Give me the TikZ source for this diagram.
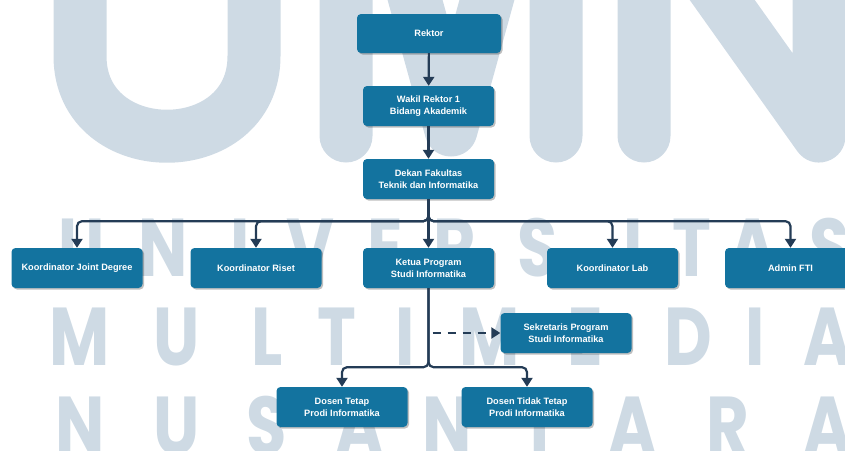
\documentclass[tikz,border=0pt]{standalone}
\usepackage{fontspec}
\setmainfont{Liberation Sans}
\newfontfamily\markfont{Poppins}
\usetikzlibrary{arrows.meta,shadows}

\definecolor{boxblue}{RGB}{19,115,159}
\definecolor{linenavy}{RGB}{36,60,86}
\definecolor{markgray}{RGB}{206,218,228}

\begin{document}
\begin{tikzpicture}[x=1pt,y=-1pt,
    unit/.style={rectangle, rounded corners=4pt, fill=boxblue, text=white,
        font=\fontsize{9.2}{12}\selectfont\bfseries, align=center,
        minimum width=131pt, minimum height=40pt, inner sep=0pt,
        drop shadow={shadow xshift=1.5pt, shadow yshift=-1.5pt, fill=black, opacity=.25}},
    link/.style={draw=linenavy, line width=2.2pt, rounded corners=5pt,
        -{Triangle[width=11pt,length=9pt]}},
    bigmark/.style={draw=markgray, line width=53pt, line cap=round, line join=round},
    wmletter/.style={text=markgray, inner sep=0pt, anchor=base,
        font=\markfont\bfseries\fontsize{82}{82}\selectfont}]

    \useasboundingbox (0,0) rectangle (845,450);

    % watermark
    \draw[bigmark] (80,-60) -- (80,56) .. controls (80,163) and (254,163) .. (254,56) -- (254,-60);
    \draw[bigmark] (346,136) -- (346,-250) -- (451,130) -- (556,-250) -- (556,136);
    \draw[bigmark] (644,136) -- (644,-110) -- (819,136) -- (819,-110);
    \foreach \c/\x [count=\i] in {U/82,N/163,I/240,V/310,E/385,R/455,S/538,I/633,T/692,A/753,S/830}
        \node[wmletter] (wmA\i) at (\x,276) {\scalebox{0.8}[1]{\c}};
    \foreach \c/\x [count=\i] in {M/80,U/177,L/267,T/337,I/405,M/490,E/585,D/688,I/755,A/828}
        \node[wmletter] (wmB\i) at (\x,365) {\scalebox{0.8}[1]{\c}};
    \foreach \c/\x [count=\i] in {N/80,U/177,S/267,A/360,N/447,T/540,A/633,R/728,A/828}
        \node[wmletter] (wmC\i) at (\x,454) {\scalebox{0.8}[1]{\c}};

    % units
    \node[unit, minimum width=144pt, minimum height=39pt] (rektor) at (429,33.5) {Rektor};
    \node[unit] (wakil) at (428.5,106) {Wakil Rektor 1\\Bidang Akademik};
    \node[unit] (dekan) at (428.5,179) {Dekan Fakultas\\Teknik dan Informatika};
    \node[unit] (joint) at (77,268) {Koordinator Joint Degree};
    \node[unit] (riset) at (256,268) {Koordinator Riset};
    \node[unit] (ketua) at (428.5,268) {Ketua Program\\Studi Informatika};
    \node[unit] (lab) at (612.5,268) {Koordinator Lab};
    \node[unit] (admin) at (790.5,268) {Admin FTI};
    \node[unit] (sekretaris) at (566,333) {Sekretaris Program\\Studi Informatika};
    \node[unit] (tetap) at (342,407) {Dosen Tetap\\Prodi Informatika};
    \node[unit] (tidaktetap) at (527,407) {Dosen Tidak Tetap\\Prodi Informatika};

    % lines
    \draw[link] (rektor) -- (wakil);
    \draw[link] (wakil) -- (dekan);
    \foreach \n in {joint,riset,ketua,lab,admin}
        \draw[link] (dekan.south) -- ++(0,22) -| (\n.north);
    \draw[link] (ketua.south) -- ++(0,79) -| (tetap.north);
    \draw[link] (ketua.south) -- ++(0,79) -| (tidaktetap.north);
    \coordinate (tap) at ([xshift=4pt]ketua.south |- sekretaris.west);
    \draw[link, rounded corners=0pt, dash pattern=on 8pt off 7pt] (tap) -- (sekretaris.west);

\end{tikzpicture}
\end{document}
